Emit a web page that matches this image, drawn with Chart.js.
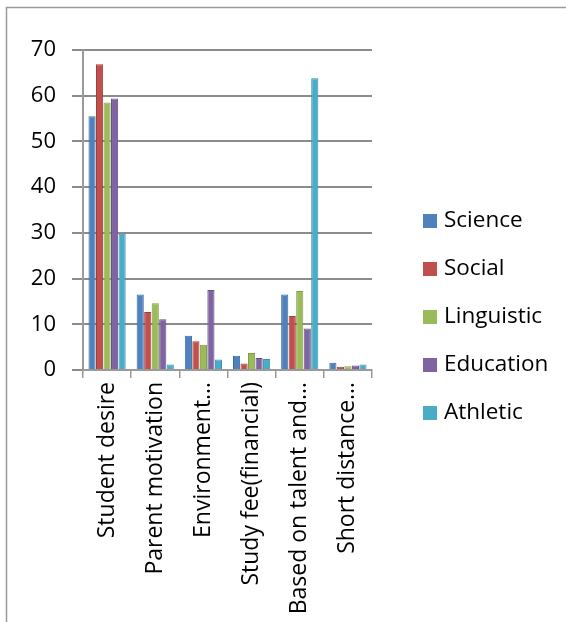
<!DOCTYPE html>
<html>
<head>
<meta charset="utf-8">
<script src="https://cdn.jsdelivr.net/npm/chart.js@4.4.1/dist/chart.umd.min.js"></script>
<style>
  html, body { margin: 0; padding: 0; background: #fff; }
  #wrap { width: 566px; height: 622px; position: relative; }
</style>
</head>
<body>
<div id="wrap"><canvas id="chart"></canvas></div>
<script>
const categories = ['Student desire', 'Parent motivation', 'Environment…', 'Study fee(financial)', 'Based on talent and…', 'Short distance…'];
const seriesNames = ['Science', 'Social', 'Linguistic', 'Education', 'Athletic'];
const science = [55.5, 16.5, 7.5, 3.1, 16.5, 1.6];
const social = [66.9, 12.7, 6.3, 1.4, 11.8, 0.7];
const linguistic = [58.5, 14.6, 5.5, 3.7, 17.3, 0.8];
const education = [59.4, 11.1, 17.5, 2.6, 9.1, 1.0];
const athletic = [29.8, 1.2, 2.3, 2.4, 63.8, 1.2];
const yTicks = [0, 10, 20, 30, 40, 50, 60, 70];

const fills = ['#4F81BD', '#C0504D', '#9BBB59', '#8064A2', '#4BACC6'];
const edges = ['#3A6BA5', '#A43D3A', '#7F9E42', '#664E88', '#3695AE'];
const FONT = "'Open Sans', 'Noto Sans', sans-serif";

const values = [science, social, linguistic, education, athletic];

// frame + legend drawn by hand so the legend can sit where the original has it
const framePlugin = {
  id: 'frame',
  beforeDraw(chart) {
    const ctx = chart.ctx;
    ctx.save();
    ctx.fillStyle = '#fff';
    ctx.fillRect(0, 0, chart.width, chart.height);
    ctx.strokeStyle = '#9a9a9a';
    ctx.lineWidth = 1.5;
    ctx.beginPath();
    ctx.moveTo(6.5, chart.height);
    ctx.lineTo(6.5, 7.5);
    ctx.lineTo(chart.width, 7.5);
    ctx.stroke();
    ctx.restore();
  },
  afterDraw(chart) {
    const ctx = chart.ctx;
    ctx.save();
    ctx.font = '22.5px ' + FONT;
    ctx.textBaseline = 'middle';
    ctx.fillStyle = '#000';
    chart.data.datasets.forEach((ds, i) => {
      const y = 221 + i * 48;
      ctx.fillStyle = ds.backgroundColor;
      ctx.fillRect(423, y - 7, 14, 14);
      ctx.fillStyle = '#000';
      ctx.fillText(ds.label, 444, y);
    });
    ctx.restore();
  }
};

new Chart(document.getElementById('chart'), {
  type: 'bar',
  data: {
    labels: categories,
    datasets: seriesNames.map((name, i) => ({
      label: name,
      data: values[i],
      backgroundColor: fills[i],
      borderColor: edges[i],
      borderWidth: 1
    }))
  },
  options: {
    responsive: true,
    maintainAspectRatio: false,
    animation: false,
    categoryPercentage: 0.78,
    barPercentage: 0.95,
    layout: { padding: { top: 50, right: 194, left: 0, bottom: 0 } },
    plugins: {
      legend: { display: false },
      tooltip: { enabled: false }
    },
    scales: {
      x: {
        afterFit(scale) { scale.height = 252; },
        grid: {
          drawOnChartArea: false,
          offset: true,
          color: '#9a9a9a',
          lineWidth: 1.5,
          tickLength: 8
        },
        border: { color: '#9a9a9a', width: 2 },
        ticks: {
          color: '#000',
          maxRotation: 90,
          minRotation: 90,
          autoSkip: false,
          padding: 4,
          font: { family: FONT, size: 23 }
        }
      },
      y: {
        min: 0,
        max: 70,
        afterFit(scale) { scale.width = 83; },
        afterBuildTicks(scale) { scale.ticks = yTicks.map(v => ({ value: v })); },
        grid: {
          color: '#8c8c8c',
          lineWidth: 2,
          tickLength: 11
        },
        border: { color: '#9a9a9a', width: 2 },
        ticks: {
          color: '#000',
          padding: 16,
          font: { family: FONT, size: 22 }
        }
      }
    }
  },
  plugins: [framePlugin]
});
</script>
</body>
</html>
